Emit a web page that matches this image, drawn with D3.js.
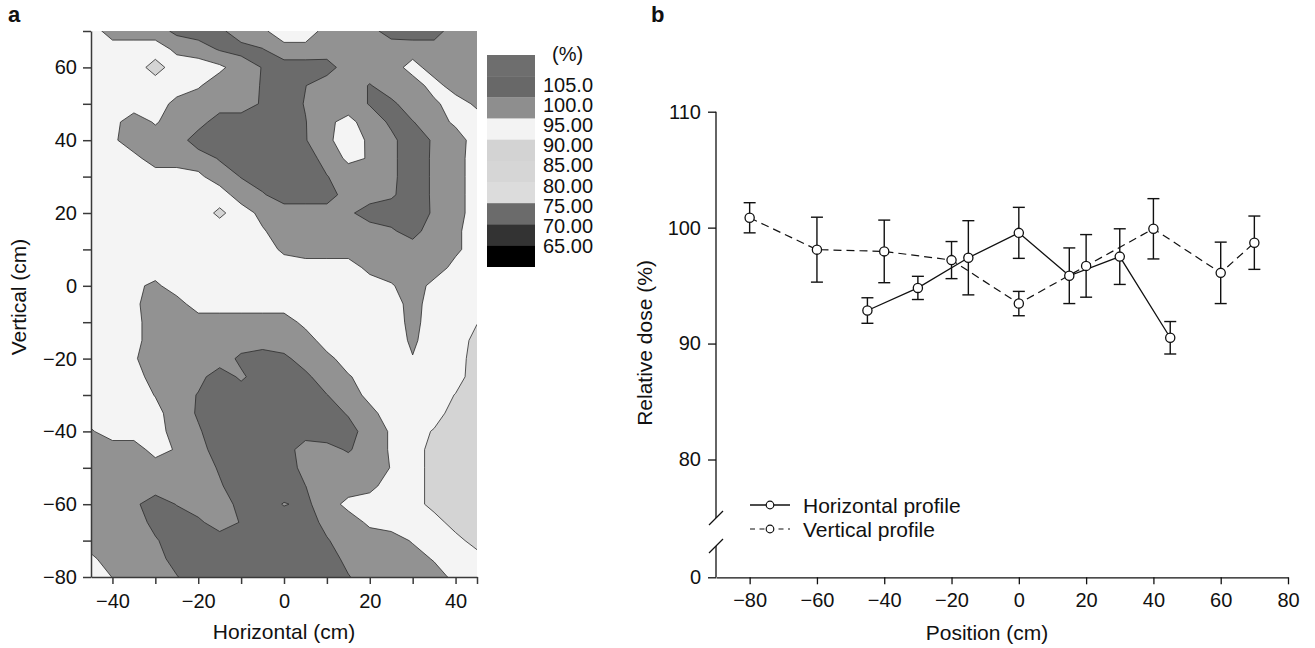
<!DOCTYPE html>
<html>
<head>
<meta charset="utf-8">
<script src="https://cdn.jsdelivr.net/npm/d3@7"></script>
<style>
  body { margin: 0; background: #fff; }
  svg text { font-family: "Liberation Sans", Arial, sans-serif; fill: #111; }
</style>
</head>
<body>
<div id="chart"></div>
<script>
var width = 1315;
var height = 648;

// ---------- panel a: measured dose map (%), 5 cm grid ----------
var gridX = [-45, -40, -35, -30, -25, -20, -15, -10, -5, 0, 5, 10, 15, 20, 25, 30, 35, 40, 45];
var gridY = [70, 65, 60, 55, 50, 45, 40, 35, 30, 25, 20, 15, 10, 5, 0, -5, -10, -15, -20, -25, -30, -35, -40, -45, -50, -55, -60, -65, -70, -75, -80];
var doseRows = [
  [92.5, 97.5, 97.5, 97.5, 101.3, 102.5, 101, 97.5, 95.8, 92.5, 92.5, 96.7, 97.5, 98.5, 102, 102.5, 102, 97.5, 97.5],
  [92.5, 92.5, 92.5, 92.5, 96.1, 97.5, 100.5, 101.5, 100.2, 96.5, 96.5, 97.5, 97.5, 97.5, 97.5, 97.5, 98, 97.5, 97.5],
  [92.5, 92.5, 92.5, 88, 92.5, 92.5, 94, 97.5, 100.2, 102.5, 102.5, 102, 97.5, 97.5, 97.5, 93, 97.5, 97.5, 97.5],
  [92.5, 92.5, 92.5, 92.5, 92.5, 94.5, 97.5, 97.5, 100.4, 102.5, 100.1, 97.5, 97.5, 100.3, 97.5, 97.5, 93, 97.5, 97.5],
  [92.5, 92.5, 92.5, 92.5, 96.5, 97.5, 97.5, 97.5, 100.6, 102.5, 99.7, 97.5, 97.5, 100.3, 101, 97.5, 96, 92.5, 96],
  [92.5, 93.5, 97.5, 94.5, 97.5, 98, 102.5, 102.5, 102.5, 102.5, 100.2, 96, 93.5, 97.5, 100.8, 100.2, 97.5, 94, 92.5],
  [92.5, 94, 98, 97.5, 97.5, 102.5, 102.5, 102.5, 102.5, 102.5, 100.3, 96, 92.5, 95.8, 99, 102.5, 99.4, 97.5, 92.5],
  [92.5, 92.5, 93.5, 97.5, 97.5, 97.5, 100.4, 102.5, 102.5, 102.5, 102.5, 98, 94, 95.3, 99, 102.5, 99.3, 97, 92.5],
  [92.5, 92.5, 92.5, 92.5, 92.5, 94, 97.5, 100.2, 102.5, 102.5, 102.5, 100.2, 97.5, 97.5, 99, 102.5, 99.3, 97, 92.5],
  [92.5, 92.5, 92.5, 92.5, 92.5, 92.5, 92.5, 97.5, 99.5, 102.5, 102.5, 102.5, 97.5, 97.5, 99.3, 102.5, 99.3, 97, 92.5],
  [92.5, 92.5, 92.5, 92.5, 92.5, 92.5, 89, 92.5, 96.5, 97.5, 97.5, 97.5, 99, 102.5, 102.5, 102.5, 99.4, 97, 92.5],
  [92.5, 92.5, 92.5, 92.5, 92.5, 92.5, 92.5, 92.5, 94.5, 97.5, 97.5, 97.5, 97.5, 97.5, 99.3, 102, 97, 96, 92.5],
  [92.5, 92.5, 92.5, 92.5, 92.5, 92.5, 92.5, 92.5, 92.5, 96, 97.5, 97.5, 97.5, 97.5, 97.5, 97.5, 97.5, 96, 92.5],
  [92.5, 92.5, 92.5, 92.5, 92.5, 92.5, 92.5, 92.5, 92.5, 92.5, 92.5, 92.5, 92.5, 96.5, 97.5, 97.5, 97.5, 93.5, 92.5],
  [92.5, 92.5, 94, 96, 92.5, 92.5, 92.5, 92.5, 92.5, 92.5, 92.5, 92.5, 92.5, 92.5, 94.5, 97.5, 93.5, 92.5, 92.5],
  [92.5, 92.5, 94, 97.5, 97, 92.5, 92.5, 92.5, 92.5, 92.5, 92.5, 92.5, 92.5, 92.5, 92.5, 97, 92.5, 92.5, 92.5],
  [92.5, 92.5, 93.5, 97.5, 97.5, 97.5, 97.5, 97.5, 97.5, 97.5, 93.5, 92.5, 92.5, 92.5, 92.5, 96.5, 92.5, 92.5, 90.2],
  [92.5, 92.5, 93.5, 97.5, 97.5, 97.5, 97.5, 97.5, 97.5, 97.5, 97.5, 92.5, 92.5, 92.5, 92.5, 95.8, 92.5, 92.5, 88.5],
  [92.5, 92.5, 94.5, 97.5, 97.5, 97.5, 97.5, 101, 102.5, 101, 98, 96.5, 92.5, 92.5, 92.5, 94.8, 92.5, 92.5, 87.5],
  [92.5, 92.5, 92.5, 97.5, 97.5, 98.5, 102.5, 99.2, 102.5, 102.5, 101, 97.5, 95.5, 92.5, 92.5, 92.5, 92.5, 92, 87.5],
  [92.5, 92.5, 92.5, 95.2, 97.5, 100.3, 102.5, 102.5, 102.5, 102.5, 102.5, 100.1, 97.5, 93.5, 92.5, 92.5, 92.5, 89.8, 87.5],
  [92.5, 92.5, 92.5, 93.5, 97.5, 100.5, 102.5, 102.5, 102.5, 102.5, 102.5, 102.5, 99.5, 96.5, 92.5, 92.5, 92.5, 87.5, 87.5],
  [95.5, 92.5, 92.5, 92.5, 97.5, 99.5, 102.5, 102.5, 102.5, 102.5, 102.5, 102.5, 102, 97.5, 94.5, 92.5, 89.5, 87.5, 87.5],
  [97.5, 97.5, 97.5, 93, 95.5, 98, 102.5, 102.5, 102.5, 102.5, 97.5, 98.5, 100.5, 97.5, 94.5, 92.5, 88, 87.5, 87.5],
  [97.5, 97.5, 97.5, 97.5, 97.5, 97.5, 100.5, 102.5, 102.5, 102.5, 98.5, 97.5, 97.5, 97.5, 94.8, 92.5, 88, 87.5, 87.5],
  [97.5, 97.5, 97.5, 97.5, 97.5, 97.5, 99.5, 102.5, 102.5, 102.5, 100.05, 97.5, 97.5, 96.5, 92.5, 92.5, 88, 87.5, 87.5],
  [97.5, 97.5, 99, 102.5, 99.8, 97.5, 97.5, 101.5, 102.5, 99.7, 101, 97.5, 93.5, 92.5, 92.5, 92.5, 88, 87.5, 87.5],
  [97.5, 97.5, 97.5, 101.5, 102.5, 101, 97.5, 100.3, 102.5, 102.5, 102.5, 98.5, 97.5, 94, 92.5, 92.5, 92.5, 87.5, 87.5],
  [97.5, 97.5, 97.5, 99.5, 102.5, 102.5, 102.5, 102.5, 102.5, 102.5, 102.5, 100.4, 97.5, 97.5, 97.5, 94.5, 92.5, 92, 87.5],
  [94, 97.5, 97.5, 98.5, 101.5, 102.5, 102.5, 102.5, 102.5, 102.5, 102.5, 102.5, 98.5, 97.5, 97.5, 97.5, 94.5, 92.5, 92.5],
  [92.5, 95.1, 97.5, 97.5, 99.8, 102.5, 102.5, 102.5, 102.5, 102.5, 102.5, 102.5, 100.3, 97.5, 97.5, 97.5, 97.5, 93.5, 92.5]
];
var levels = [85, 90, 95, 100, 105];
var levelColors = ["#d4d4d4", "#f4f4f4", "#929292", "#6b6b6b", "#6e6e6e"];

var legendLabels = ["(%)", "105.0", "100.0", "95.00", "90.00", "85.00", "80.00", "75.00", "70.00", "65.00"];
var legendColors = ["#6e6e6e", "#686868", "#8e8e8e", "#f3f3f3", "#d3d3d3", "#d6d6d6", "#dcdcdc", "#6b6b6b", "#333333", "#000000"];

// ---------- panel b: profiles ----------
var hPos = [-45, -30, -15, 0, 15, 30, 45];
var hDose = [92.85, 94.8, 97.4, 99.55, 95.85, 97.5, 90.5];
var hErr = [1.1, 1.0, 3.2, 2.2, 2.4, 2.4, 1.4];

var vPos = [-80, -60, -40, -20, 0, 20, 40, 60, 70];
var vDose = [100.85, 98.1, 97.95, 97.2, 93.45, 96.7, 99.9, 96.1, 98.7];
var vErr = [1.3, 2.8, 2.7, 1.6, 1.05, 2.7, 2.6, 2.65, 2.3];

var xTicksB = [-80, -60, -40, -20, 0, 20, 40, 60, 80];
var yTicksB = [80, 90, 100, 110];

var svg = d3.select("#chart").append("svg")
    .attr("width", width)
    .attr("height", height);

var fmt = d3.format("d");

// ===== panel a =====
var xA = d3.scaleLinear().domain([-45, 45]).range([91, 477]);
var yA = d3.scaleLinear().domain([-80, 70]).range([577, 31]);

svg.append("defs").append("clipPath").attr("id", "clipA")
  .append("rect")
    .attr("x", xA(-45)).attr("y", yA(70))
    .attr("width", xA(45) - xA(-45)).attr("height", yA(-80) - yA(70));

var contours = d3.contours()
    .size([gridX.length, gridY.length])
    .thresholds(levels)(d3.merge(doseRows));

var stepX = gridX[1] - gridX[0];
var stepY = gridY[1] - gridY[0];
// grid cell centers sit at index + 0.5 in contour space
var gridProj = d3.geoTransform({
  point: function(cx, cy) {
    this.stream.point(xA(gridX[0] + (cx - 0.5) * stepX), yA(gridY[0] + (cy - 0.5) * stepY));
  }
});
var contourPath = d3.geoPath(gridProj);

svg.append("g")
    .attr("clip-path", "url(#clipA)")
  .selectAll("path")
  .data(contours)
  .enter()
  .append("path")
    .attr("d", contourPath)
    .attr("fill", function(d, i) { return levelColors[i]; })
    .attr("stroke", "#2b2b2b")
    .attr("stroke-width", 0.8)
    .attr("stroke-linejoin", "round");

var axAx = svg.append("g")
    .attr("transform", "translate(0," + yA(-80) + ")")
    .call(d3.axisBottom(xA)
      .tickValues([-40, -30, -20, -10, 0, 10, 20, 30, 40, 45])
      .tickSize(7).tickSizeOuter(0).tickPadding(10)
      .tickFormat(function(d) { return d % 20 === 0 ? fmt(d) : ""; }));

var axAy = svg.append("g")
    .attr("transform", "translate(" + xA(-45) + ",0)")
    .call(d3.axisLeft(yA)
      .tickValues(d3.range(-80, 71, 10))
      .tickSize(8).tickSizeOuter(0).tickPadding(6)
      .tickFormat(function(d) { return d % 20 === 0 ? fmt(d) : ""; }));

[axAx, axAy].forEach(function(g) {
  g.attr("font-size", 20).attr("font-family", null);
  g.selectAll("path, line").attr("stroke", "#3a3a3a").attr("stroke-width", 1.5);
  g.selectAll("text").attr("fill", "#111");
});

svg.append("text")
    .attr("x", 284).attr("y", 639)
    .attr("text-anchor", "middle")
    .attr("font-size", 21)
    .text("Horizontal (cm)");

svg.append("text")
    .attr("transform", "translate(26,297) rotate(-90)")
    .attr("text-anchor", "middle")
    .attr("font-size", 21)
    .text("Vertical (cm)");

// colour key
var keyTop = 55, keyH = 21.17;
svg.append("g").selectAll("rect")
  .data(legendColors)
  .enter()
  .append("rect")
    .attr("x", 487)
    .attr("y", function(d, i) { return keyTop + i * keyH; })
    .attr("width", 48)
    .attr("height", keyH + 0.3)
    .attr("fill", function(d) { return d; });

svg.append("g").selectAll("text")
  .data(legendLabels)
  .enter()
  .append("text")
    .attr("x", function(d, i) { return i === 0 ? 552 : 543; })
    .attr("y", function(d, i) { return i === 0 ? 61 : 92 + (i - 1) * 20.1; })
    .attr("font-size", 20)
    .text(function(d) { return d; });

svg.append("text")
    .attr("x", 8).attr("y", 22)
    .attr("font-size", 22).attr("font-weight", "bold")
    .text("a");

// ===== panel b =====
var xB = d3.scaleLinear().domain([-90, 80]).range([716, 1288]);
var yB = d3.scaleLinear().domain([80, 110]).range([459.5, 111.7]);
var yB0 = d3.scaleLinear().domain([0, 10]).range([577.3, 461]);
var breakTop = 518, breakBottom = 546;

var gB = svg.append("g");

var axBx = gB.append("g")
    .attr("transform", "translate(0," + yB0(0) + ")")
    .call(d3.axisBottom(xB).tickValues(xTicksB).tickSize(7).tickSizeOuter(0).tickPadding(9).tickFormat(fmt));

var axBy = gB.append("g")
    .attr("transform", "translate(" + xB(-90) + ",0)")
    .call(d3.axisLeft(yB).tickValues(yTicksB).tickSize(8).tickSizeOuter(0).tickPadding(7).tickFormat(fmt));
axBy.select(".domain").remove();

var axBy0 = gB.append("g")
    .attr("transform", "translate(" + xB(-90) + ",0)")
    .call(d3.axisLeft(yB0).tickValues([0]).tickSize(8).tickSizeOuter(0).tickPadding(7).tickFormat(fmt));
axBy0.select(".domain").remove();

[axBx, axBy, axBy0].forEach(function(g) {
  g.attr("font-size", 20).attr("font-family", null);
  g.selectAll("path, line").attr("stroke", "#111").attr("stroke-width", 1.3);
  g.selectAll("text").attr("fill", "#111");
});

// broken y axis
gB.append("line")
    .attr("x1", xB(-90)).attr("x2", xB(-90))
    .attr("y1", yB(110)).attr("y2", breakTop)
    .attr("stroke", "#111").attr("stroke-width", 1.3);
gB.append("line")
    .attr("x1", xB(-90)).attr("x2", xB(-90))
    .attr("y1", breakBottom).attr("y2", yB0(0))
    .attr("stroke", "#111").attr("stroke-width", 1.3);
[breakTop, breakBottom].forEach(function(yb) {
  gB.append("line")
      .attr("x1", xB(-90) - 7).attr("y1", yb + 7)
      .attr("x2", xB(-90) + 7).attr("y2", yb - 7)
      .attr("stroke", "#111").attr("stroke-width", 1.3);
});

var hData = hPos.map(function(p, i) { return { pos: p, dose: hDose[i], err: hErr[i] }; });
var vData = vPos.map(function(p, i) { return { pos: p, dose: vDose[i], err: vErr[i] }; });

var line = d3.line()
    .x(function(d) { return xB(d.pos); })
    .y(function(d) { return yB(d.dose); });

gB.append("path")
    .datum(vData)
    .attr("d", line)
    .attr("fill", "none")
    .attr("stroke", "#111")
    .attr("stroke-width", 1.2)
    .attr("stroke-dasharray", "8,5");

gB.append("path")
    .datum(hData)
    .attr("d", line)
    .attr("fill", "none")
    .attr("stroke", "#111")
    .attr("stroke-width", 1.3);

function drawSeries(data) {
  var g = gB.append("g");
  var bars = g.selectAll("g.bar")
    .data(data)
    .enter()
    .append("g")
    .attr("class", "bar");
  bars.append("line")
      .attr("x1", function(d) { return xB(d.pos); })
      .attr("x2", function(d) { return xB(d.pos); })
      .attr("y1", function(d) { return yB(d.dose + d.err); })
      .attr("y2", function(d) { return yB(d.dose - d.err); });
  bars.append("line")
      .attr("x1", function(d) { return xB(d.pos) - 6; })
      .attr("x2", function(d) { return xB(d.pos) + 6; })
      .attr("y1", function(d) { return yB(d.dose + d.err); })
      .attr("y2", function(d) { return yB(d.dose + d.err); });
  bars.append("line")
      .attr("x1", function(d) { return xB(d.pos) - 6; })
      .attr("x2", function(d) { return xB(d.pos) + 6; })
      .attr("y1", function(d) { return yB(d.dose - d.err); })
      .attr("y2", function(d) { return yB(d.dose - d.err); });
  bars.selectAll("line").attr("stroke", "#111").attr("stroke-width", 1.4);
  g.selectAll("circle")
    .data(data)
    .enter()
    .append("circle")
      .attr("cx", function(d) { return xB(d.pos); })
      .attr("cy", function(d) { return yB(d.dose); })
      .attr("r", 4.6)
      .attr("fill", "#fff")
      .attr("stroke", "#111")
      .attr("stroke-width", 1.3);
}
drawSeries(vData);
drawSeries(hData);

// legend
var legB = gB.append("g");
legB.append("line").attr("x1", 750).attr("x2", 790).attr("y1", 505).attr("y2", 505)
    .attr("stroke", "#111").attr("stroke-width", 1.3);
legB.append("line").attr("x1", 750).attr("x2", 790).attr("y1", 529).attr("y2", 529)
    .attr("stroke", "#111").attr("stroke-width", 1.2).attr("stroke-dasharray", "5,4.5");
[505, 529].forEach(function(yy) {
  legB.append("circle").attr("cx", 770).attr("cy", yy).attr("r", 3.8)
      .attr("fill", "#fff").attr("stroke", "#111").attr("stroke-width", 1.2);
});
legB.append("text").attr("x", 803).attr("y", 513).attr("font-size", 21).text("Horizontal profile");
legB.append("text").attr("x", 803).attr("y", 537).attr("font-size", 21).text("Vertical profile");

gB.append("text")
    .attr("x", 987).attr("y", 640)
    .attr("text-anchor", "middle")
    .attr("font-size", 21)
    .text("Position (cm)");

gB.append("text")
    .attr("transform", "translate(652,343) rotate(-90)")
    .attr("text-anchor", "middle")
    .attr("font-size", 21)
    .text("Relative dose (%)");

svg.append("text")
    .attr("x", 651).attr("y", 22)
    .attr("font-size", 22).attr("font-weight", "bold")
    .text("b");
</script>
</body>
</html>
